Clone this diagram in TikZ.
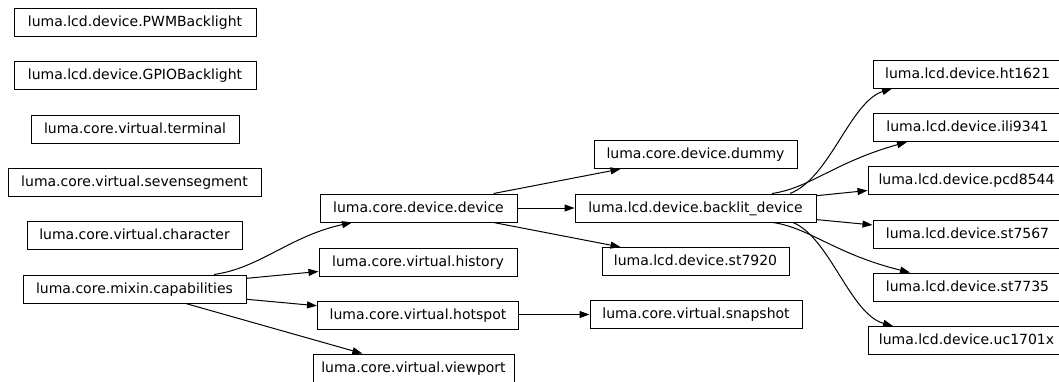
\documentclass[tikz,border=0pt]{standalone}
\usepackage{fontspec}
\setmainfont{DejaVu Sans}
\usetikzlibrary{arrows.meta}
\begin{document}
\begin{tikzpicture}[x=1pt,y=-1pt,
  box/.style={draw, line width=1pt, minimum height=28pt, inner sep=0pt,
    text height=11pt, text depth=3pt, font=\fontsize{14}{16}\selectfont},
  edge/.style={line width=1pt, -{Triangle[length=10pt,width=7pt]}}]
\useasboundingbox (0,0) rectangle (1059,381);
% left column
\node[box, minimum width=242pt] (pwm) at (135,22) {luma.lcd.device.PWMBacklight};
\node[box, minimum width=242pt] (gpio) at (135,75) {luma.lcd.device.GPIOBacklight};
\node[box, minimum width=208pt] (term) at (135,129) {luma.core.virtual.terminal};
\node[box, minimum width=253pt] (seven) at (134.5,182) {luma.core.virtual.sevensegment};
\node[box, minimum width=215pt] (char) at (134.5,235.5) {luma.core.virtual.character};
\node[box, minimum width=223pt] (cap) at (134.5,289) {luma.core.mixin.capabilities};
% second column
\node[box, minimum width=197pt] (dev) at (418.5,208) {luma.core.device.device};
\node[box, minimum width=198pt] (hist) at (418,262) {luma.core.virtual.history};
\node[box, minimum width=201pt] (hot) at (418,315) {luma.core.virtual.hotspot};
\node[box, minimum width=201pt] (view) at (413.5,368) {luma.core.virtual.viewport};
% third column
\node[box, minimum width=203pt] (dummy) at (695.5,154.5) {luma.core.device.dummy};
\node[box, minimum width=241pt] (back) at (695.5,208) {luma.lcd.device.backlit\_device};
\node[box, minimum width=187pt] (st7920) at (695.5,261.5) {luma.lcd.device.st7920};
\node[box, minimum width=212pt] (snap) at (696,314.5) {luma.core.virtual.snapshot};
% right column
\node[box, minimum width=189pt] (ht) at (967.5,74) {luma.lcd.device.ht1621};
\node[box, minimum width=189pt] (ili) at (967.5,127.5) {luma.lcd.device.ili9341};
\node[box, minimum width=197pt] (pcd) at (966.5,180.5) {luma.lcd.device.pcd8544};
\node[box, minimum width=189pt] (st7567) at (967.5,234) {luma.lcd.device.st7567};
\node[box, minimum width=189pt] (st7735) at (967.5,287) {luma.lcd.device.st7735};
\node[box, minimum width=197pt] (uc) at (966.5,340.5) {luma.lcd.device.uc1701x};
% edges
\draw[edge] ([xshift=79.5pt]cap.north) .. controls (260,268) and (290,236) .. ([xshift=-66.5pt]dev.south);
\draw[edge] (cap) -- (hist);
\draw[edge] (cap) -- (hot);
\draw[edge] (cap) -- (view);
\draw[edge] (dev) -- (dummy);
\draw[edge] (dev) -- (back);
\draw[edge] (dev) -- (st7920);
\draw[edge] (snap.west -| hot.east) -- (snap.west);
\draw[edge] ([xshift=94.5pt]back.north) .. controls (830,178) and (850,102) .. ([xshift=-75.5pt]ht.south);
\draw[edge] ([xshift=76.5pt]back.north) .. controls (810,188) and (835,162) .. ([xshift=-60.5pt]ili.south);
\draw[edge] (back) -- (pcd);
\draw[edge] (back) -- (st7567);
\draw[edge] ([xshift=77.5pt]back.south) .. controls (810,228) and (835,254) .. ([xshift=-57.5pt]st7735.north);
\draw[edge] ([xshift=97.5pt]back.south) .. controls (830,238) and (850,314) .. ([xshift=-73.5pt]uc.north);
\end{tikzpicture}
\end{document}
